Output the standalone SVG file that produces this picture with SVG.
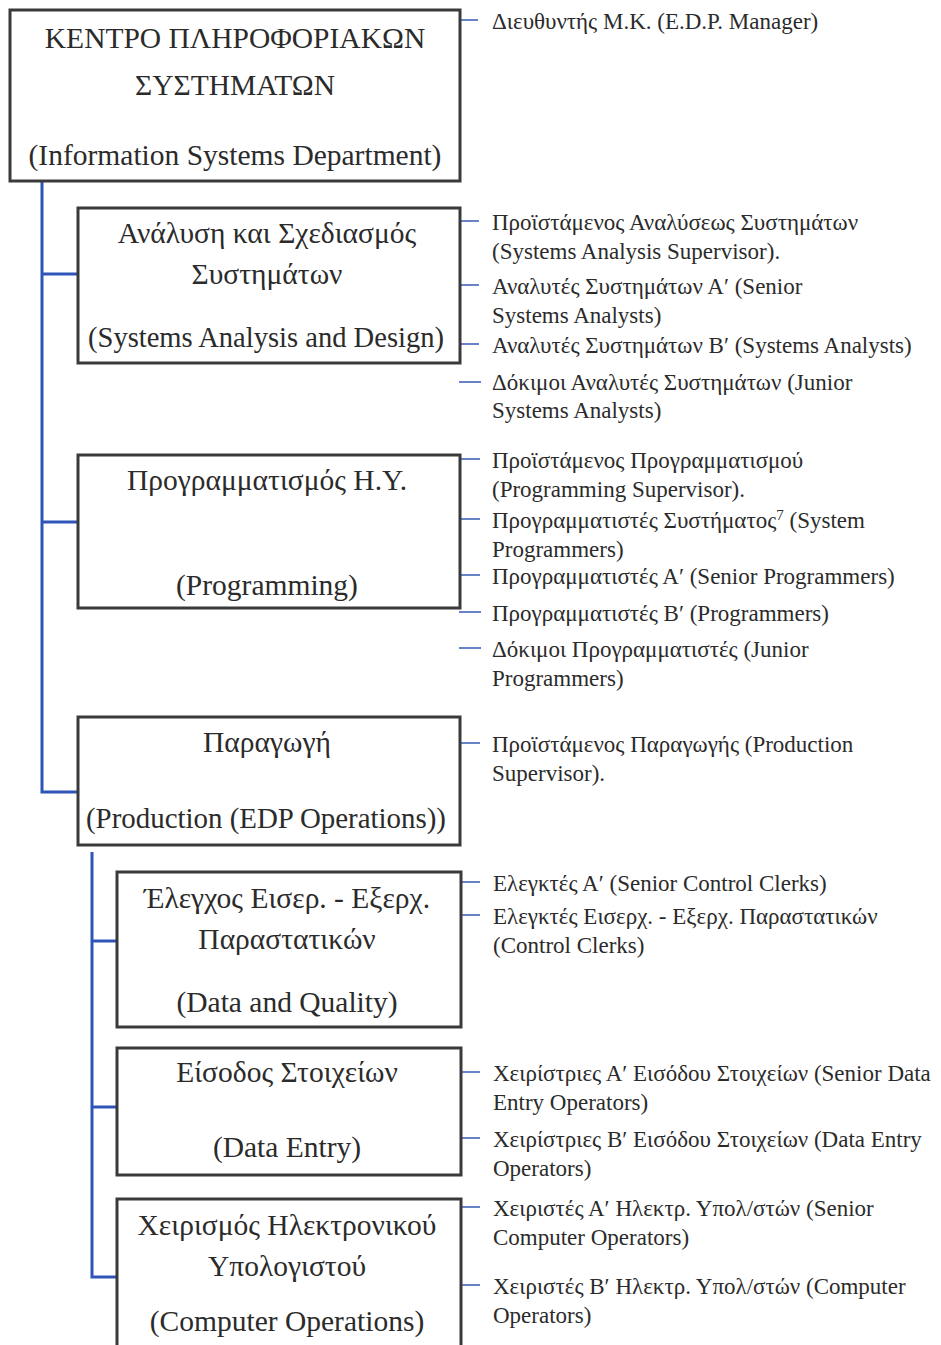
<svg xmlns="http://www.w3.org/2000/svg" width="941" height="1345" viewBox="0 0 941 1345">
  <style>
    .box { fill: #ffffff; stroke: #3a3a3a; stroke-width: 3; }
    .ttl { font-family: "Liberation Serif", "DejaVu Serif", serif; font-size: 29.5px; fill: #2b2b2b; text-anchor: middle; }
    .role { font-family: "Liberation Serif", "DejaVu Serif", serif; font-size: 23px; fill: #2b2b2b; }
    .trunk { fill: none; stroke: #2f55b8; stroke-width: 3; }
    .tick { fill: none; stroke: #3a5ab4; stroke-width: 1.6; }
  </style>
  <rect width="941" height="1345" fill="#ffffff"/>

  <!-- hierarchy connectors -->
  <g id="connectors">
    <path class="trunk" d="M42 182 V792 H78 M42 274 H78 M42 522 H78"/>
    <path class="trunk" d="M92 852 V1277 H117 M92 941 H117 M92 1107 H117"/>
    <path class="tick" d="M461 20 H478
      M461 221 H479 M461 285 H479 M461 344 H479 M459 382 H481
      M461 459 H480 M461 519 H480 M461 575 H480 M459 612 H481 M459 648 H481
      M461 743 H480
      M462 882 H480 M462 915 H480
      M462 1072 H480 M462 1138 H480
      M462 1207 H480 M462 1285 H480"/>
  </g>

  <g id="n-isd">
    <rect class="box" x="10" y="10" width="450" height="171"/>
    <text class="ttl" x="235" y="48">ΚΕΝΤΡΟ ΠΛΗΡΟΦΟΡΙΑΚΩΝ</text>
    <text class="ttl" x="235" y="95">ΣΥΣΤΗΜΑΤΩΝ</text>
    <text class="ttl" x="235" y="165">(Information Systems Department)</text>
    <text class="role" x="492" y="29">Διευθυντής Μ.Κ. (E.D.P. Manager)</text>
  </g>

  <g id="n-analysis">
    <rect class="box" x="78" y="208" width="382" height="155"/>
    <text class="ttl" x="267" y="243">Ανάλυση και Σχεδιασμός</text>
    <text class="ttl" x="267" y="284">Συστημάτων</text>
    <text class="ttl" x="266" y="347" textLength="356" lengthAdjust="spacingAndGlyphs">(Systems Analysis and Design)</text>
    <text class="role" x="492" y="230">Προϊστάμενος Αναλύσεως Συστημάτων</text>
    <text class="role" x="492" y="259">(Systems Analysis Supervisor).</text>
    <text class="role" x="492" y="294">Αναλυτές Συστημάτων Α′ (Senior</text>
    <text class="role" x="492" y="323">Systems Analysts)</text>
    <text class="role" x="492" y="353">Αναλυτές Συστημάτων Β′ (Systems Analysts)</text>
    <text class="role" x="492" y="390">Δόκιμοι Αναλυτές Συστημάτων (Junior</text>
    <text class="role" x="492" y="418">Systems Analysts)</text>
  </g>

  <g id="n-programming">
    <rect class="box" x="78" y="455" width="382" height="153"/>
    <text class="ttl" x="267" y="490">Προγραμματισμός Η.Υ.</text>
    <text class="ttl" x="267" y="595">(Programming)</text>
    <text class="role" x="492" y="468">Προϊστάμενος Προγραμματισμού</text>
    <text class="role" x="492" y="497">(Programming Supervisor).</text>
    <text class="role" x="492" y="528">Προγραμματιστές Συστήματος<tspan font-size="15" dy="-8">7</tspan><tspan dy="8"> (System</tspan></text>
    <text class="role" x="492" y="557">Programmers)</text>
    <text class="role" x="492" y="584">Προγραμματιστές Α′ (Senior Programmers)</text>
    <text class="role" x="492" y="621">Προγραμματιστές Β′ (Programmers)</text>
    <text class="role" x="492" y="657">Δόκιμοι Προγραμματιστές (Junior</text>
    <text class="role" x="492" y="686">Programmers)</text>
  </g>

  <g id="n-production">
    <rect class="box" x="78" y="717" width="382" height="128"/>
    <text class="ttl" x="267" y="752">Παραγωγή</text>
    <text class="ttl" x="266" y="828" textLength="360" lengthAdjust="spacingAndGlyphs">(Production (EDP Operations))</text>
    <text class="role" x="492" y="752">Προϊστάμενος Παραγωγής (Production</text>
    <text class="role" x="492" y="781">Supervisor).</text>
  </g>

  <g id="n-control">
    <rect class="box" x="117" y="872" width="344" height="155"/>
    <text class="ttl" x="287" y="908">Έλεγχος Εισερ. - Εξερχ.</text>
    <text class="ttl" x="287" y="949">Παραστατικών</text>
    <text class="ttl" x="287" y="1012">(Data and Quality)</text>
    <text class="role" x="493" y="891">Ελεγκτές Α′ (Senior Control Clerks)</text>
    <text class="role" x="493" y="924">Ελεγκτές Εισερχ. - Εξερχ. Παραστατικών</text>
    <text class="role" x="493" y="953">(Control Clerks)</text>
  </g>

  <g id="n-dataentry">
    <rect class="box" x="117" y="1048" width="344" height="127"/>
    <text class="ttl" x="287" y="1082">Είσοδος Στοιχείων</text>
    <text class="ttl" x="287" y="1157">(Data Entry)</text>
    <text class="role" x="493" y="1081">Χειρίστριες Α′ Εισόδου Στοιχείων (Senior Data</text>
    <text class="role" x="493" y="1110">Entry Operators)</text>
    <text class="role" x="493" y="1147">Χειρίστριες Β′ Εισόδου Στοιχείων (Data Entry</text>
    <text class="role" x="493" y="1176">Operators)</text>
  </g>

  <g id="n-computerops">
    <rect class="box" x="117" y="1199" width="344" height="170"/>
    <text class="ttl" x="287" y="1235">Χειρισμός Ηλεκτρονικού</text>
    <text class="ttl" x="287" y="1276">Υπολογιστού</text>
    <text class="ttl" x="287" y="1331">(Computer Operations)</text>
    <text class="role" x="493" y="1216">Χειριστές Α′ Ηλεκτρ. Υπολ/στών (Senior</text>
    <text class="role" x="493" y="1245">Computer Operators)</text>
    <text class="role" x="493" y="1294">Χειριστές Β′ Ηλεκτρ. Υπολ/στών (Computer</text>
    <text class="role" x="493" y="1323">Operators)</text>
  </g>
</svg>
